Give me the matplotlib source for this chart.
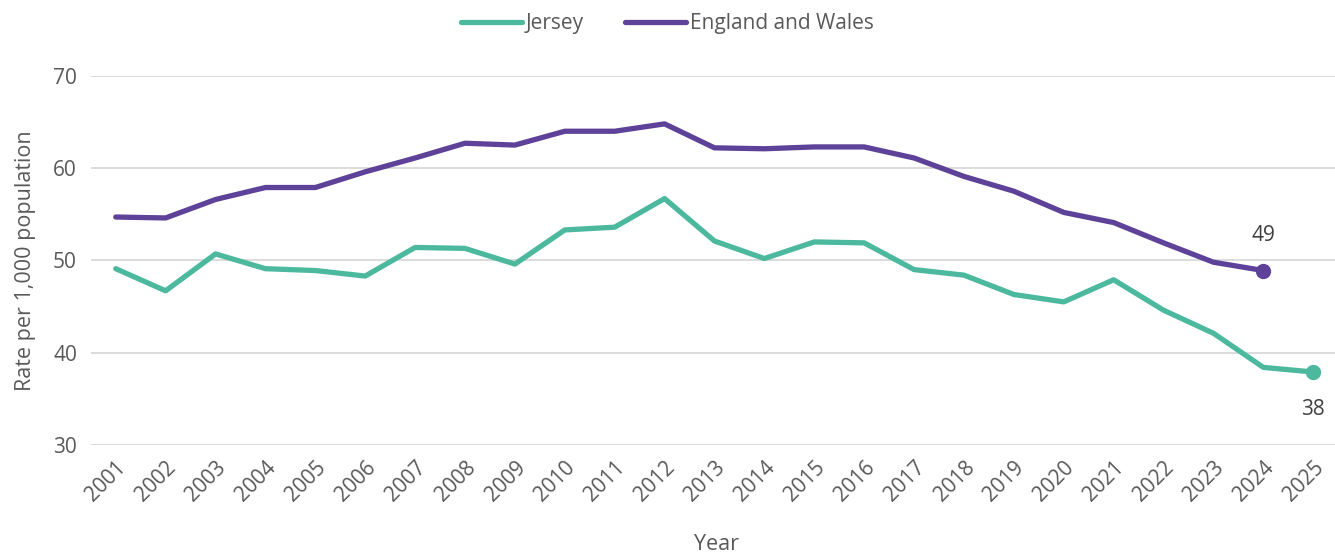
import matplotlib.pyplot as plt

years = list(range(2001, 2026))
jersey = [49.1, 46.7, 50.7, 49.1, 48.9, 48.3, 51.4, 51.3, 49.6, 53.3, 53.6, 56.7,
          52.1, 50.2, 52.0, 51.9, 49.0, 48.4, 46.3, 45.5, 47.9, 44.6, 42.1, 38.4, 37.9]
eng_years = list(range(2001, 2025))
england_wales = [54.7, 54.6, 56.6, 57.9, 57.9, 59.6, 61.1, 62.7, 62.5, 64.0, 64.0, 64.8,
                 62.2, 62.1, 62.3, 62.3, 61.1, 59.1, 57.5, 55.2, 54.1, 51.9, 49.8, 48.9]

teal = "#4cb99f"
purple = "#5e4199"
grey = "#595959"

plt.rcParams['font.family'] = ['Open Sans', 'DejaVu Sans']

fig = plt.figure(figsize=(13.35, 5.54), dpi=100)
ax = fig.add_axes([0.068, 0.197, 0.937, 0.666])

ax.plot(years, jersey, color=teal, lw=3.8, label="Jersey", solid_capstyle='round')
ax.plot(eng_years, england_wales, color=purple, lw=3.8, label="England and Wales",
        solid_capstyle='round')
ax.plot(years[-1], jersey[-1], 'o', color=teal, ms=10)
ax.plot(eng_years[-1], england_wales[-1], 'o', color=purple, ms=10)
ax.annotate(f"{jersey[-1]:.0f}", (years[-1], jersey[-1]), xytext=(0, -27),
            textcoords='offset points', ha='center', va='center', fontsize=15, color="#404040")
ax.annotate(f"{england_wales[-1]:.0f}", (eng_years[-1], england_wales[-1]), xytext=(0, 25),
            textcoords='offset points', ha='center', va='center', fontsize=15, color="#404040")

ax.set_ylim(30, 70)
ax.set_yticks([30, 40, 50, 60, 70])
ax.set_xlim(2000.5, 2025.57)
ax.set_xticks(years)
ax.set_xticklabels([str(y) for y in years], rotation=45, ha='right', rotation_mode='anchor')
ax.grid(axis='y', color='#d9d9d9', lw=1.3)
ax.set_axisbelow(True)
for s in ax.spines.values():
    s.set_visible(False)
ax.tick_params(length=0, labelsize=15, colors=grey, pad=10)
ax.tick_params(axis='x', pad=9)

ax.set_ylabel("Rate per 1,000 population", fontsize=15.5, color=grey, labelpad=12)
ax.set_xlabel("Year", fontsize=15.5, color=grey, labelpad=20)

fig.legend(loc='center', bbox_to_anchor=(0.5, 0.957), ncol=2, frameon=False,
           fontsize=15, labelcolor=grey, handlelength=2.9, handletextpad=0.2,
           columnspacing=2.0)

fig.savefig("out.png", dpi=100)
